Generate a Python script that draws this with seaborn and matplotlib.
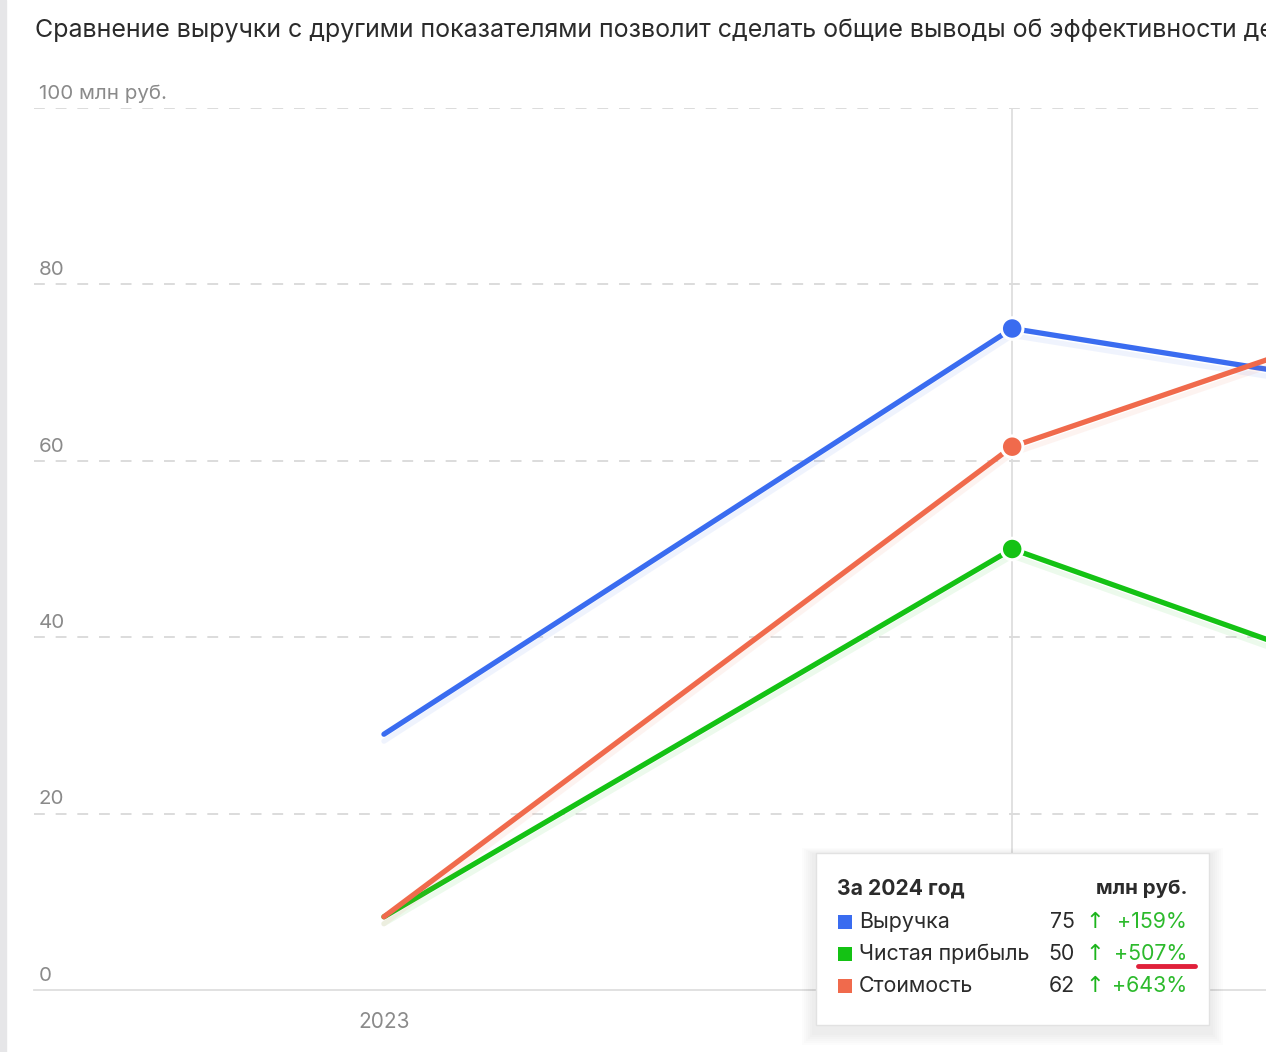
import numpy as np
import pandas as pd
import matplotlib
matplotlib.use("Agg")
import matplotlib.pyplot as plt
import matplotlib.patheffects as pe
from matplotlib.patches import Rectangle
import seaborn as sns

# данные с графика
years = ["2023", "2024", "2025"]
revenue = [29.0, 75.0, 63.6]
profit = [8.3, 50.0, 24.7]
cost = [8.3, 61.6, 85.9]
series_names = ["Выручка", "Чистая прибыль", "Стоимость"]
series_colors = ["#3a6cf0", "#14c214", "#f06a4c"]
y_ticks = [0, 20, 40, 60, 80, 100]
y_tick_labels = ["0", "20", "40", "60", "80", "100 млн руб."]
tooltip_year = "2024"
tooltip_pct = ["+159%", "+507%", "+643%"]

title = "Сравнение выручки с другими показателями позволит сделать общие выводы об эффективности деятельности"

sns.set_theme(style="white")
plt.rcParams["font.family"] = ["Inter", "DejaVu Sans"]

df = pd.DataFrame({
    "year": years * 3,
    "x": list(range(len(years))) * 3,
    "value": revenue + profit + cost,
    "series": [s for s in series_names for _ in years],
})

W, H = 1266, 1052
fig = plt.figure(figsize=(W / 100, H / 100), dpi=100)
# ось: левый край 34px, y=0 на 990px, y=100 на 108px
ax = fig.add_axes([34 / W, (H - 990) / H, 1 - 34 / W, 882 / H])

palette = dict(zip(series_names, series_colors))
sns.lineplot(data=df, x="x", y="value", hue="series", hue_order=series_names,
             palette=palette, linewidth=3.8, ax=ax, legend=False,
             solid_capstyle="round", sort=False)
for line, c in zip(ax.get_lines(), series_colors):
    line.set_path_effects([pe.SimpleLineShadow(offset=(0, -5), shadow_color=c, alpha=0.08, rho=1),
                           pe.Normal()])

ax.axvline(1, color="#dcdcdc", lw=1.2, zorder=0.5)

sel = df[df["year"] == tooltip_year]
sns.scatterplot(data=sel, x="x", y="value", hue="series", hue_order=series_names,
                palette=palette, s=240, edgecolor="white", linewidth=2.2,
                ax=ax, legend=False, zorder=5)

ax.set_yticks(y_ticks)
ax.set_yticklabels([])
ax.tick_params(axis="y", length=0)
for v, lab in zip(y_ticks, y_tick_labels):
    if v > 0:
        ax.axhline(v, color="#d9d9d9", lw=1.3, ls=(0, (6, 6)), zorder=0)
    ax.text(0.004, v + 1.6, lab, transform=ax.get_yaxis_transform(),
            fontsize=14.8, color="#8a8a8a", va="center", ha="left")

# подпись 2024 закрыта подсказкой
ax.set_xticks(range(len(years)))
ax.set_xticklabels([y if y != tooltip_year else "" for y in years], fontsize=15, color="#8a8a8a")
ax.tick_params(axis="x", length=0, pad=16)
ax.set_xlim(-0.557, 1.404)
ax.set_ylim(0, 100)
ax.set_xlabel("")
ax.set_ylabel("")
for side in ["top", "right", "left"]:
    ax.spines[side].set_visible(False)
ax.spines["bottom"].set_color("#dedede")
ax.spines["bottom"].set_linewidth(1.3)
ax.patch.set_alpha(0)

fig.text(35 / W, 1 - 31 / H, title, fontsize=18, color="#2b2b2b", va="center", ha="left")

# серая полоса слева
fig.patches.append(Rectangle((0, 0), 6 / W, 1, transform=fig.transFigure,
                             color="#e6e6e8", zorder=1))

# всплывающая подсказка
bx0, by0, bx1, by1 = 816, 853, 1209, 1025
for k in range(6):
    fig.patches.append(Rectangle(((bx0 - 4 - k * 2) / W, 1 - (by1 + 10 + k * 2) / H),
                                 (bx1 - bx0 + 8 + k * 4) / W, (by1 - by0 + 10 + k * 3) / H,
                                 transform=fig.transFigure, color="black",
                                 alpha=0.012, lw=0, zorder=8))
fig.patches.append(Rectangle((bx0 / W, 1 - by1 / H), (bx1 - bx0) / W, (by1 - by0) / H,
                             transform=fig.transFigure, facecolor="white",
                             edgecolor="#e2e2e2", lw=1.0, zorder=9))

def ft(x, y, s, **kw):
    fig.text(x / W, 1 - y / H, s, va="center", zorder=10, **kw)

ft(837, 889, f"За {tooltip_year} год", fontsize=15.2, fontweight="bold", color="#2b2b2b", ha="left")
ft(1187, 889, "млн руб.", fontsize=14.8, fontweight="bold", color="#2b2b2b", ha="right")
idx = years.index(tooltip_year)
vals = [revenue[idx], profit[idx], cost[idx]]
for i, (name, c, v, pct) in enumerate(zip(series_names, series_colors, vals, tooltip_pct)):
    yy = 922 + i * 32
    fig.patches.append(Rectangle((838 / W, 1 - (yy + 7) / H), 14 / W, 14 / H,
                                 transform=fig.transFigure, color=c, lw=0, zorder=10))
    ft(859, yy, name, fontsize=15.4, color="#2b2b2b", ha="left")
    ft(1075, yy, f"{v:.0f}", fontsize=15.4, color="#2b2b2b", ha="right")
    ft(1095, yy, "↑", fontsize=16, color="#1cb41c", ha="center", family=["DejaVu Sans"])
    ft(1187, yy, pct, fontsize=15.4, color="#2cba2c", ha="right")

# красное подчёркивание под +507%
fig.lines.append(plt.Line2D([1138 / W, 1195 / W], [1 - 966 / H, 1 - 966 / H],
                            transform=fig.transFigure, color="#e0203a", lw=3.5,
                            solid_capstyle="round", zorder=11))

fig.savefig("out.png", dpi=100)
